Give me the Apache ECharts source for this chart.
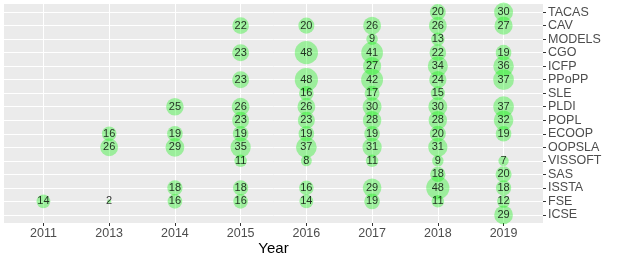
<!DOCTYPE html>
<html><head><meta charset="utf-8">
<script src="https://cdn.jsdelivr.net/npm/echarts@6/dist/echarts.min.js"></script>
<style>html,body{margin:0;padding:0;background:#fff}#c{width:623px;height:260px}</style>
</head><body><div id="c"></div>
<script>
const years = ['2011','2013','2014','2015','2016','2017','2018','2019'];
const venues = ['TACAS','CAV','MODELS','CGO','ICFP','PPoPP','SLE','PLDI','POPL','ECOOP','OOPSLA','VISSOFT','SAS','ISSTA','FSE','ICSE'];
// values per venue, aligned with years (null = no entry)
const TACAS   = [null,null,null,null,null,null,20,30];
const CAV     = [null,null,null,22,20,26,26,27];
const MODELS  = [null,null,null,null,null,9,13,null];
const CGO     = [null,null,null,23,48,41,22,19];
const ICFP    = [null,null,null,null,null,27,34,36];
const PPoPP   = [null,null,null,23,48,42,24,37];
const SLE     = [null,null,null,null,16,17,15,null];
const PLDI    = [null,null,25,26,26,30,30,37];
const POPL    = [null,null,null,23,23,28,28,32];
const ECOOP   = [null,16,19,19,19,19,20,19];
const OOPSLA  = [null,26,29,35,37,31,31,null];
const VISSOFT = [null,null,null,11,8,11,9,7];
const SAS     = [null,null,null,null,null,null,18,20];
const ISSTA   = [null,null,18,18,16,29,48,18];
const FSE     = [14,2,16,16,14,19,11,12];
const ICSE    = [null,null,null,null,null,null,null,29];
const rows = [TACAS,CAV,MODELS,CGO,ICFP,PPoPP,SLE,PLDI,POPL,ECOOP,OOPSLA,VISSOFT,SAS,ISSTA,FSE,ICSE];

const points = [];
rows.forEach((row, vi) => row.forEach((v, yi) => { if (v !== null) points.push([yi, vi, v]); }));
const vals = points.map(p => p[2]);
const vmin = Math.min(...vals), vmax = Math.max(...vals);
const sizeOf = v => 4 + 19.2 * Math.sqrt((v - vmin) / (vmax - vmin));

const xIdx = years.map((_, i) => i);
const yIdx = venues.map((_, i) => i);
const font = 'Liberation Sans, Arial, Helvetica, sans-serif';

const chart = echarts.init(document.getElementById('c'), null, {renderer: 'canvas'});
chart.setOption({
  animation: false,
  backgroundColor: '#ffffff',
  grid: {left: 4, right: 80, top: 4, bottom: 37, show: true, backgroundColor: '#EBEBEB', borderWidth: 0,
         containLabel: false, outerBoundsMode: 'none'},
  xAxis: {
    type: 'value', min: -0.6, max: years.length - 1 + 0.6,
    name: 'Year', nameLocation: 'middle', nameGap: 18, nameMoveOverlap: false,
    nameTextStyle: {fontFamily: font, fontSize: 15, color: '#000'},
    axisLine: {show: false, onZero: false},
    axisTick: {show: true, length: 3, lineStyle: {color: '#333333'}, customValues: xIdx},
    axisLabel: {customValues: xIdx, formatter: v => years[Math.round(v)], fontFamily: font, fontSize: 12.5, color: '#4D4D4D', margin: 4},
    splitLine: {show: true, lineStyle: {color: '#ffffff', width: 1}, customValues: xIdx}
  },
  yAxis: {
    type: 'value', position: 'right', inverse: true, min: -0.6, max: venues.length - 1 + 0.6,
    axisLine: {show: false, onZero: false},
    axisTick: {show: true, length: 3, lineStyle: {color: '#333333'}, customValues: yIdx},
    axisLabel: {customValues: yIdx, formatter: v => venues[Math.round(v)], fontFamily: font, fontSize: 12.5, color: '#4D4D4D', margin: 5},
    splitLine: {show: true, lineStyle: {color: '#ffffff', width: 1}, customValues: yIdx}
  },
  series: [
    {
      type: 'scatter', data: points, silent: true,
      symbolSize: d => sizeOf(d[2]),
      itemStyle: {color: 'rgba(0,240,0,0.42)'},
      emphasis: {disabled: true}
    },
    {
      type: 'scatter', data: points, silent: true, z: 5,
      symbolSize: 1,
      itemStyle: {color: 'rgba(0,0,0,0)'},
      label: {show: true, position: 'inside', formatter: p => p.value[2], fontFamily: font, fontSize: 11, color: '#000'},
      emphasis: {disabled: true}
    }
  ]
});
</script></body></html>
